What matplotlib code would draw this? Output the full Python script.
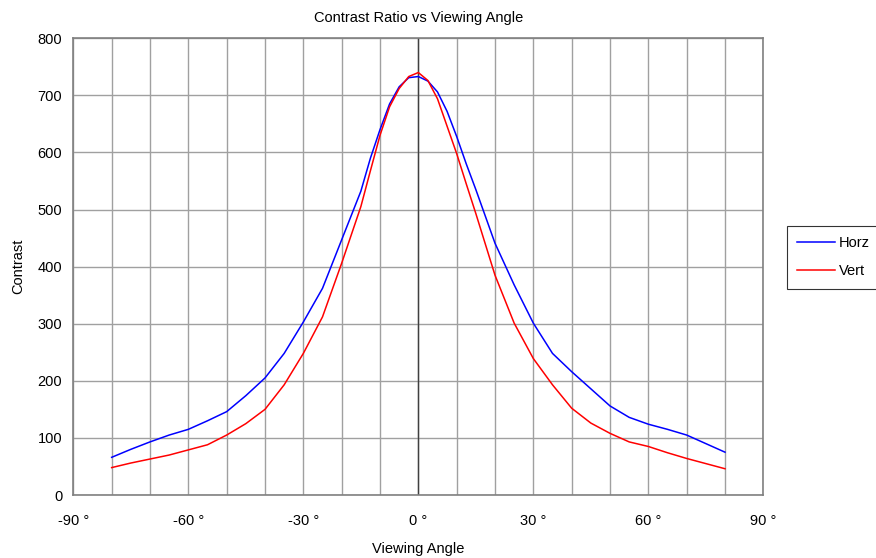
import numpy as np
import matplotlib.pyplot as plt
from matplotlib.ticker import MultipleLocator, FuncFormatter

angle = [-80, -75, -70, -65, -60, -55, -50, -45, -40, -35, -30, -25, -20, -15,
         -12.5, -10, -7.5, -5, -2.5, 0, 2.5, 5, 7.5, 10, 12.5, 15,
         20, 25, 30, 35, 40, 45, 50, 55, 60, 65, 70, 75, 80]
horz = [66, 80, 93, 105, 115, 130, 146, 174, 205, 248, 303, 362, 447, 532,
        590, 640, 685, 715, 731, 733, 725, 706, 672, 628, 580, 535,
        441, 368, 301, 248, 216, 186, 156, 136, 124, 115, 105, 90, 75]
vert = [48, 56, 63, 70, 79, 88, 105, 125, 150, 193, 248, 312, 406, 505,
        568, 630, 680, 712, 733, 740, 726, 694, 646, 598, 545, 493,
        385, 301, 239, 193, 152, 126, 108, 93, 85, 74, 64, 55, 46]

plt.rcParams['font.family'] = ['Liberation Sans', 'DejaVu Sans']

fig = plt.figure(figsize=(8.76, 5.58), dpi=100)
ax = fig.add_axes([0.0837, 0.1129, 0.7877, 0.8185])

ax.plot(angle, horz, color='#0000ff', lw=1.1, label='Horz', zorder=3)
ax.plot(angle, vert, color='#ff0000', lw=1.1, label='Vert', zorder=3)

ax.set_xlim(-90, 90)
ax.set_ylim(0, 800)
ax.xaxis.set_major_locator(MultipleLocator(30))
ax.xaxis.set_minor_locator(MultipleLocator(10))
ax.yaxis.set_major_locator(MultipleLocator(100))
ax.xaxis.set_major_formatter(FuncFormatter(lambda v, p: f"{v:.0f} \u00b0"))
ax.tick_params(which='both', length=0, labelsize=10.5, colors='black')
ax.tick_params(axis='x', pad=14)
ax.tick_params(axis='y', pad=8)

ax.grid(True, which='both', color='#a0a0a0', lw=1.0)
ax.axvline(0, color='#404040', lw=1.0, zorder=2)
for s in ax.spines.values():
    s.set_color('#808080')
    s.set_linewidth(1.2)

ax.set_title('Contrast Ratio vs Viewing Angle', fontsize=10.5, pad=12)
ax.set_xlabel('Viewing Angle', fontsize=10.5, labelpad=10)
ax.set_ylabel('Contrast', fontsize=10.5, labelpad=9)

leg = fig.legend(loc='center left', bbox_to_anchor=(787 / 876, 1 - 257 / 558),
                 borderaxespad=0, frameon=True, fancybox=False, fontsize=10.5,
                 handlelength=2.6, handletextpad=0.25, borderpad=0.7,
                 labelspacing=1.0)
leg.get_frame().set_edgecolor('black')
leg.get_frame().set_linewidth(0.8)

fig.savefig('out.png', dpi=100)
